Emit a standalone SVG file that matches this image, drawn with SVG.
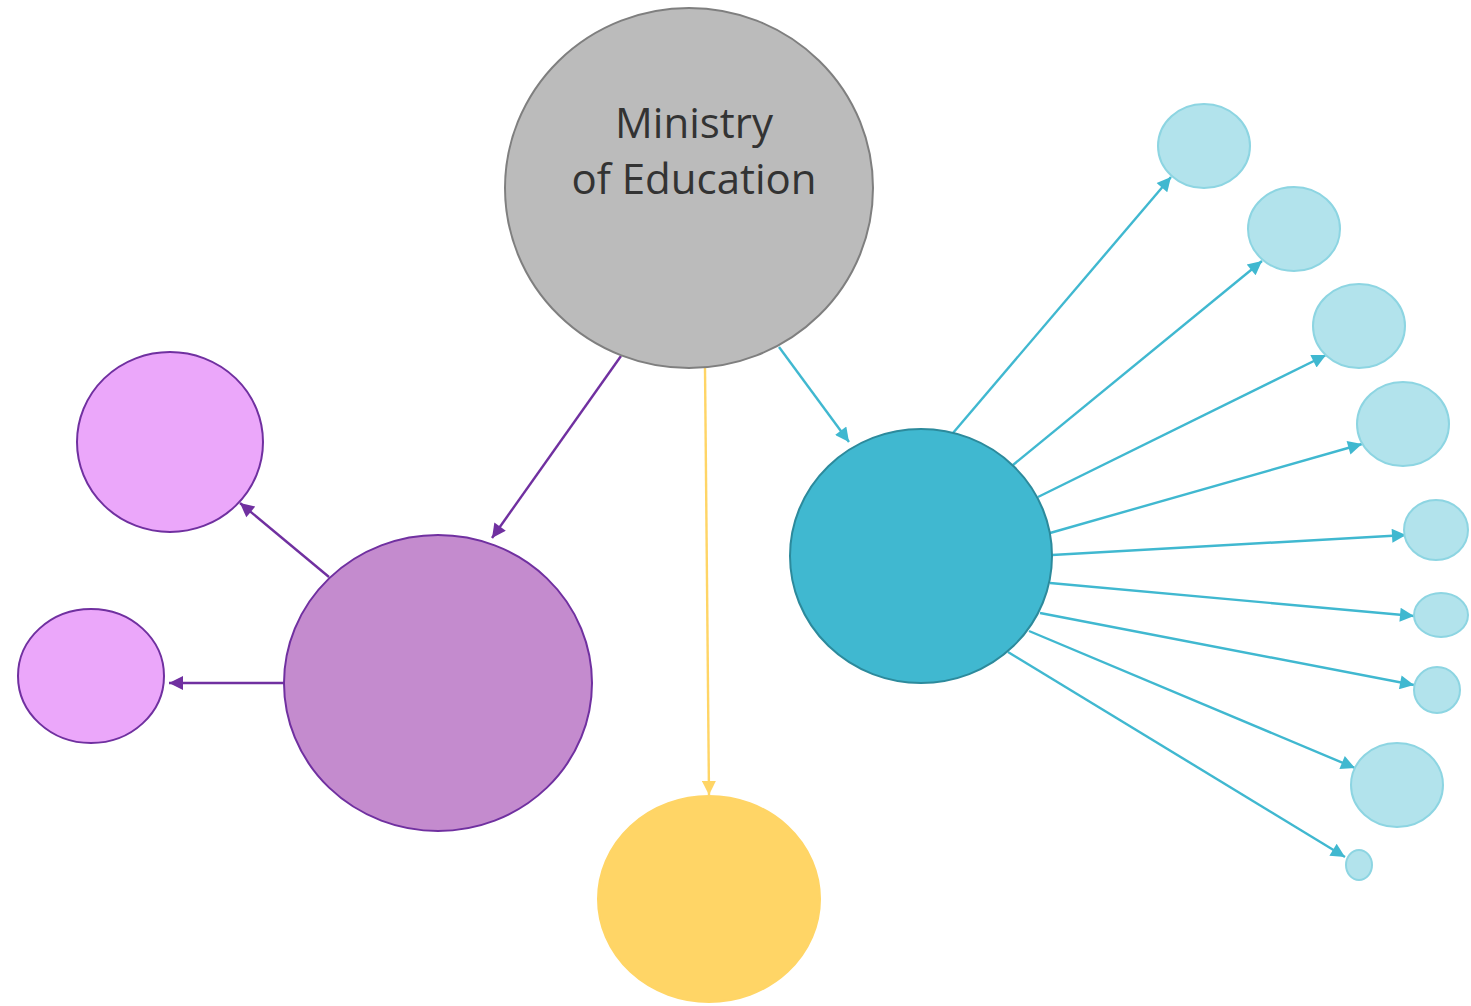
<svg xmlns="http://www.w3.org/2000/svg" width="1471" height="1006" viewBox="0 0 1471 1006">
<style>
.grey{fill:#BBBBBB;stroke:#7F7F7F;stroke-width:2}
.purple{fill:#C48BCE;stroke:#7030A0;stroke-width:2}
.lpurple{fill:#EBA7FA;stroke:#7030A0;stroke-width:2}
.yellow{fill:#FFD566;stroke:#FFD566;stroke-width:2}
.teal{fill:#40B8D0;stroke:#2C8A9C;stroke-width:2}
.lblue{fill:#B2E3EC;stroke:#8DD5E2;stroke-width:2}
.label{font-family:"Open Sans","Liberation Sans",sans-serif;font-size:42px;fill:#333333;text-anchor:middle}
.cp{stroke:#7030A0;stroke-width:2.4;fill:none;marker-end:url(#ap)}
.cy{stroke:#FFD566;stroke-width:2.4;fill:none;marker-end:url(#ay)}
.ct{stroke:#40B8D0;stroke-width:2.4;fill:none;marker-end:url(#at)}
</style>
<defs>
<marker id="ap" viewBox="0 0 10 10" refX="10" refY="5" markerWidth="16" markerHeight="14" orient="auto" markerUnits="userSpaceOnUse"><path d="M0,0 L10,5 L0,10 z" fill="#7030A0"/></marker>
<marker id="ay" viewBox="0 0 10 10" refX="10" refY="5" markerWidth="16" markerHeight="14" orient="auto" markerUnits="userSpaceOnUse"><path d="M0,0 L10,5 L0,10 z" fill="#FFD566"/></marker>
<marker id="at" viewBox="0 0 10 10" refX="10" refY="5" markerWidth="16" markerHeight="14" orient="auto" markerUnits="userSpaceOnUse"><path d="M0,0 L10,5 L0,10 z" fill="#40B8D0"/></marker>
</defs>
<g id="connectors">
<line class="cp" x1="621" y1="356" x2="492" y2="538"/>
<line class="cy" x1="705" y1="368" x2="709" y2="795"/>
<line class="ct" x1="779" y1="347" x2="849" y2="442"/>
<line class="cp" x1="329" y1="577" x2="240" y2="503"/>
<line class="cp" x1="284" y1="683" x2="169" y2="683"/>
<line class="ct" x1="953" y1="433" x2="1171" y2="177"/>
<line class="ct" x1="1013" y1="465" x2="1262" y2="261"/>
<line class="ct" x1="1038" y1="497" x2="1326" y2="355"/>
<line class="ct" x1="1050" y1="533" x2="1362" y2="444"/>
<line class="ct" x1="1052" y1="555" x2="1406" y2="535"/>
<line class="ct" x1="1050" y1="583" x2="1414" y2="616"/>
<line class="ct" x1="1040" y1="613" x2="1414" y2="685"/>
<line class="ct" x1="1029" y1="631" x2="1355" y2="768"/>
<line class="ct" x1="1008" y1="652" x2="1345" y2="857"/>
</g>
<g id="ministry"><ellipse class="grey" cx="689" cy="188" rx="184" ry="180"/>
<text class="label" x="694" y="138">Ministry</text>
<text class="label" x="694" y="194">of Education</text></g>
<g id="purple-main"><ellipse class="purple" cx="438" cy="683" rx="154" ry="148"/></g>
<g id="purple-top"><ellipse class="lpurple" cx="170" cy="442" rx="93" ry="90"/></g>
<g id="purple-left"><ellipse class="lpurple" cx="91" cy="676" rx="73" ry="67"/></g>
<g id="yellow"><ellipse class="yellow" cx="709" cy="899" rx="111" ry="103"/></g>
<g id="teal-main"><ellipse class="teal" cx="921" cy="556" rx="131" ry="127"/></g>
<g id="blue-1"><ellipse class="lblue" cx="1204" cy="146" rx="46" ry="42"/></g>
<g id="blue-2"><ellipse class="lblue" cx="1294" cy="229" rx="46" ry="42"/></g>
<g id="blue-3"><ellipse class="lblue" cx="1359" cy="326" rx="46" ry="42"/></g>
<g id="blue-4"><ellipse class="lblue" cx="1403" cy="424" rx="46" ry="42"/></g>
<g id="blue-5"><ellipse class="lblue" cx="1436" cy="530" rx="32" ry="30"/></g>
<g id="blue-6"><ellipse class="lblue" cx="1441" cy="615" rx="27" ry="22"/></g>
<g id="blue-7"><ellipse class="lblue" cx="1437" cy="690" rx="23" ry="23"/></g>
<g id="blue-8"><ellipse class="lblue" cx="1397" cy="785" rx="46" ry="42"/></g>
<g id="blue-9"><ellipse class="lblue" cx="1359" cy="865" rx="13" ry="15"/></g>
</svg>
